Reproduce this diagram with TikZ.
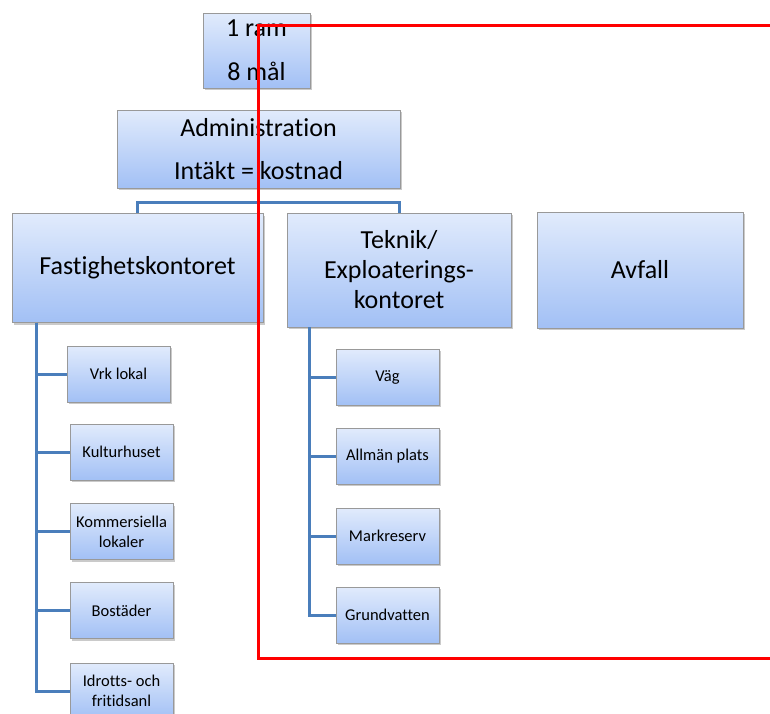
\documentclass[tikz,border=0pt]{standalone}
\usepackage{fontspec}
\setmainfont[Ligatures=NoCommon]{Carlito}
\usetikzlibrary{shadows}

\definecolor{boxtop}{HTML}{E1EBFC}
\definecolor{boxbot}{HTML}{A2C0F5}
\definecolor{linkblue}{HTML}{4A7EBB}

\tikzset{
  orgbox/.style={draw=black!40, line width=0.8pt, top color=boxtop, bottom color=boxbot,
    drop shadow={shadow xshift=2pt, shadow yshift=-2pt, opacity=0.35, fill=black!60},
    inner sep=0pt, align=center},
  bigbox/.style={orgbox, font=\fontsize{26}{30}\selectfont},
  smallbox/.style={orgbox, minimum width=103pt, minimum height=56pt, font=\fontsize{16.5}{20}\selectfont},
  link/.style={draw=linkblue, line width=3pt}
}

\begin{document}
\begin{tikzpicture}[x=1pt,y=-1pt]
	\useasboundingbox (0,0) rectangle (770,713);
	\clip (0,0) rectangle (770,713);
	% top levels
		\node(ram)[bigbox,minimum width=107pt,minimum height=75pt,font=\fontsize{26}{44}\selectfont] at (256.5,50.5) {1 ram\\8 mål};
		\node(adm)[bigbox,minimum width=283pt,minimum height=78pt,font=\fontsize{26}{43}\selectfont] at (258.5,149) {Administration\\Intäkt = kostnad};
		\node(fast)[bigbox,minimum width=251pt,minimum height=109pt] at (137.5,268) {Fastighetskontoret};
		\node(tek)[bigbox,minimum width=224pt,minimum height=114pt] at (399,270) {Teknik/\\Exploaterings-\\kontoret};
		\node(avf)[bigbox,minimum width=206pt,minimum height=116pt] at (640,270) {Avfall};
	% Fastighetskontoret
		\node(vrk)[smallbox] at (118.5,374) {Vrk lokal};
		\node(kult)[smallbox] at (121.5,452) {Kulturhuset};
		\node(komm)[smallbox] at (121.5,531.5) {Kommersiella\\lokaler};
		\node(bost)[smallbox] at (121.5,610.5) {Bostäder};
		\node(idr)[smallbox] at (121.5,691) {Idrotts- och\\fritidsanl};
	% Teknik
		\node(vag)[smallbox] at (387.5,377) {Väg};
		\node(allm)[smallbox] at (387.5,456) {Allmän plats};
		\node(mark)[smallbox] at (387.5,536) {Markreserv};
		\node(grund)[smallbox] at (387.5,615) {Grundvatten};
	% links
		\coordinate(bus) at ([yshift=-14pt]adm.south);
		\draw[link] (adm.south) -- (bus) -| (fast.north);
		\draw[link] (bus) -| (tek.north);
		\coordinate(fl) at ([xshift=25pt]fast.south west);
		\coordinate(tl) at ([xshift=23pt]tek.south west);
		\foreach \n in {vrk,kult,komm,bost,idr}
			\draw[link] (fl) |- (\n.west);
		\foreach \n in {vag,allm,mark,grund}
			\draw[link] (tl) |- (\n.west);
	% red frame
		\coordinate(r1) at (772,25);
		\coordinate(r2) at (258,25);
		\coordinate(r3) at (258,658);
		\coordinate(r4) at (772,658);
		\draw[red,line width=3pt] (r1) -- (r2) -- (r3) -- (r4);
\end{tikzpicture}
\end{document}
